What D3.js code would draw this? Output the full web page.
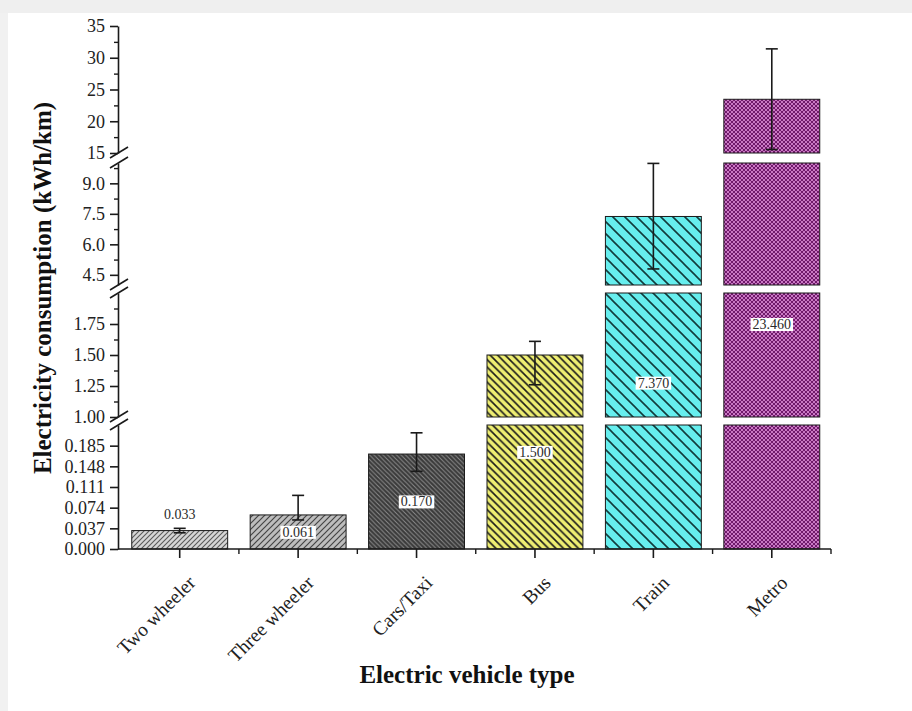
<!DOCTYPE html>
<html>
<head>
<meta charset="utf-8">
<script src="https://cdn.jsdelivr.net/npm/d3@7"></script>
<style>
  html, body { margin: 0; padding: 0; background: #fff; }
  svg { display: block; }
  text { font-family: "Liberation Serif", "Times New Roman", serif; }
</style>
</head>
<body>
<svg id="chart" width="912" height="711"></svg>
<script>
// ---- data ----
const categories = ["Two wheeler", "Three wheeler", "Cars/Taxi", "Bus", "Train", "Metro"];
const consumption = [0.033, 0.061, 0.170, 1.500, 7.370, 23.460];
const errLow  = [0.029, 0.052, 0.139, 1.26, 4.79, 15.55];
const errHigh = [0.037, 0.096, 0.208, 1.61, 9.98, 31.40];
const valueLabels = ["0.033", "0.061", "0.170", "1.500", "7.370", "23.460"];

// broken y axis: value range of each piece, bottom to top
const segDomains = [[0, 0.222], [1, 2], [4, 10], [15, 35]];
const segTicks = [
  [0, 0.037, 0.074, 0.111, 0.148, 0.185],
  [1.00, 1.25, 1.50, 1.75],
  [4.5, 6.0, 7.5, 9.0],
  [15, 20, 25, 30, 35]
];
const segMinor = [
  [],
  [1.125, 1.375, 1.625, 1.875],
  [5.25, 6.75, 8.25, 9.75],
  [17.5, 22.5, 27.5, 32.5]
];
const segFormats = [".3f", ".2f", ".1f", "d"];

// ---- layout ----
const svg = d3.select("#chart");
const W = 912, H = 711;
const axisX = 118, baseY = 549;
// pixel extent of each axis piece (bottom, top)
const segPixels = [[549, 425], [417, 293], [285, 163], [153, 26]];

svg.append("rect").attr("width", W).attr("height", H).attr("fill", "#fff");
svg.append("rect").attr("width", W).attr("height", 13).attr("fill", "#efefef");
svg.append("rect").attr("y", 13).attr("width", 8).attr("height", H - 13).attr("fill", "#f1f1f1");

const segScales = segDomains.map((d, i) => d3.scaleLinear().domain(d).range(segPixels[i]));

function yOf(v) {
  for (let i = segScales.length - 1; i >= 0; i--) {
    if (v >= segDomains[i][0]) return segScales[i](Math.min(v, segDomains[i][1]));
  }
  return segScales[0](v);
}

const x = d3.scaleBand().domain(categories).range([120.5, 831]).paddingInner(0.19).paddingOuter(0.095);
const step = x.step();

// ---- fill patterns ----
const defs = svg.append("defs");
function hatch(id, size, bg, stroke, width, dir) {
  const p = defs.append("pattern").attr("id", id).attr("patternUnits", "userSpaceOnUse")
    .attr("width", size).attr("height", size);
  p.append("rect").attr("width", size).attr("height", size).attr("fill", bg);
  const s = size;
  const d = dir === "/"
    ? `M0,${s} L${s},0 M${-s / 2},${s / 2} L${s / 2},${-s / 2} M${s / 2},${1.5 * s} L${1.5 * s},${s / 2}`
    : `M0,0 L${s},${s} M${-s / 2},${s / 2} L${s / 2},${1.5 * s} M${s / 2},${-s / 2} L${1.5 * s},${s / 2}`;
  p.append("path").attr("d", d).attr("stroke", stroke).attr("stroke-width", width).attr("fill", "none");
}
hatch("p0", 5, "#d6d6d6", "#5a5a5a", 1.1, "/");
hatch("p1", 6, "#bdbdbd", "#454545", 1.2, "/");
hatch("p2", 4.5, "#3a3a3a", "#8c8c8c", 1.0, "\\");
hatch("p3", 7.5, "#eeee72", "#1a1a1a", 1.6, "\\");
hatch("p4", 12, "#66eeee", "#123c3c", 1.6, "\\");
{
  // dotted purple fill
  const p = defs.append("pattern").attr("id", "p5").attr("patternUnits", "userSpaceOnUse")
    .attr("width", 4).attr("height", 4);
  p.append("rect").attr("width", 4).attr("height", 4).attr("fill", "#701a6b");
  [[0, 0], [4, 0], [0, 4], [4, 4], [2, 2]].forEach(([cx, cy]) =>
    p.append("circle").attr("cx", cx).attr("cy", cy).attr("r", 0.95).attr("fill", "#f0a2ea"));
}
const patternIds = ["p0", "p1", "p2", "p3", "p4", "p5"];

// ---- bars, drawn piece by piece across the axis breaks ----
const bars = svg.append("g");
categories.forEach((c, i) => {
  const v = consumption[i];
  segDomains.forEach((dom, s) => {
    if (v <= dom[0] && !(s === 0 && v > 0)) return;
    const yTop = segScales[s](Math.min(v, dom[1]));
    const yBot = segScales[s](dom[0]);
    bars.append("rect")
      .attr("x", x(c)).attr("y", yTop)
      .attr("width", x.bandwidth()).attr("height", yBot - yTop)
      .attr("fill", `url(#${patternIds[i]})`)
      .attr("stroke", "#1b1b1b").attr("stroke-width", 1);
  });
});

// ---- error bars ----
const eb = svg.append("g").attr("stroke", "#1a1a1a").attr("stroke-width", 1.6);
categories.forEach((c, i) => {
  const cx = x(c) + x.bandwidth() / 2;
  const y1 = yOf(errHigh[i]), y2 = yOf(errLow[i]);
  eb.append("line").attr("x1", cx).attr("x2", cx).attr("y1", y1).attr("y2", y2);
  eb.append("line").attr("x1", cx - 6).attr("x2", cx + 6).attr("y1", y1).attr("y2", y1);
  eb.append("line").attr("x1", cx - 6).attr("x2", cx + 6).attr("y1", y2).attr("y2", y2);
});

// ---- value labels ----
const lab = svg.append("g");
categories.forEach((c, i) => {
  const cx = x(c) + x.bandwidth() / 2;
  const yTop = yOf(consumption[i]);
  const y0 = yOf(0);
  const inside = (y0 - yTop) > 25;
  const cy = inside ? (yTop + y0) / 2 : yTop - 16;
  const t = lab.append("text").attr("x", cx).attr("y", cy).attr("dy", "0.35em")
    .attr("text-anchor", "middle").attr("font-size", 14).attr("fill", "#2a2a2a")
    .text(valueLabels[i]);
  if (inside) {
    const bb = t.node().getBBox();
    lab.insert("rect", () => t.node())
      .attr("x", bb.x - 2).attr("y", bb.y + 1).attr("width", bb.width + 4).attr("height", bb.height - 2)
      .attr("fill", "#fff");
  }
});

// ---- y axis pieces ----
segScales.forEach((sc, i) => {
  const g = svg.append("g").attr("transform", `translate(${axisX},0)`);
  g.call(d3.axisLeft(sc).tickValues(segTicks[i]).tickSize(8).tickSizeOuter(0)
    .tickPadding(5).tickFormat(d3.format(segFormats[i])));
  g.selectAll(".tick text").attr("font-size", 18).attr("font-family", "Liberation Serif").attr("fill", "#222");
  g.selectAll("path, line").attr("stroke", "#1a1a1a").attr("stroke-width", 1.6);
  if (segMinor[i].length) {
    const gm = svg.append("g").attr("transform", `translate(${axisX},0)`);
    gm.call(d3.axisLeft(sc).tickValues(segMinor[i]).tickSize(4).tickSizeOuter(0).tickFormat(""));
    gm.select(".domain").remove();
    gm.selectAll("line").attr("stroke", "#1a1a1a").attr("stroke-width", 1.4);
  }
});

// break marks
const brk = svg.append("g").attr("stroke", "#1a1a1a").attr("stroke-width", 1.6);
for (let i = 0; i < segPixels.length - 1; i++) {
  [segPixels[i][1], segPixels[i + 1][0]].forEach(yy => {
    brk.append("line").attr("x1", axisX - 8).attr("y1", yy + 5).attr("x2", axisX + 10).attr("y2", yy - 6);
  });
}

// ---- x axis ----
const xr = x.range();
svg.append("line").attr("x1", axisX).attr("x2", xr[1]).attr("y1", baseY).attr("y2", baseY)
  .attr("stroke", "#1a1a1a").attr("stroke-width", 1.6);
const gx = svg.append("g");
categories.forEach(c => {
  const cx = x(c) + x.bandwidth() / 2;
  gx.append("line").attr("x1", cx).attr("x2", cx).attr("y1", baseY).attr("y2", baseY + 9)
    .attr("stroke", "#1a1a1a").attr("stroke-width", 1.6);
  gx.append("line").attr("x1", cx + step / 2).attr("x2", cx + step / 2).attr("y1", baseY).attr("y2", baseY + 5)
    .attr("stroke", "#1a1a1a").attr("stroke-width", 1.4);
  gx.append("text").attr("transform", `translate(${cx + 17},${baseY + 35}) rotate(-45)`)
    .attr("text-anchor", "end").attr("font-size", 19.5).attr("fill", "#222").text(c);
});

// ---- axis titles ----
svg.append("text").attr("transform", `translate(51,288) rotate(-90)`)
  .attr("text-anchor", "middle").attr("font-size", 25).attr("font-weight", "bold").attr("fill", "#111")
  .text("Electricity consumption (kWh/km)");
svg.append("text").attr("x", 467).attr("y", 683)
  .attr("text-anchor", "middle").attr("font-size", 25).attr("font-weight", "bold").attr("fill", "#111")
  .text("Electric vehicle type");
</script>
</body>
</html>
